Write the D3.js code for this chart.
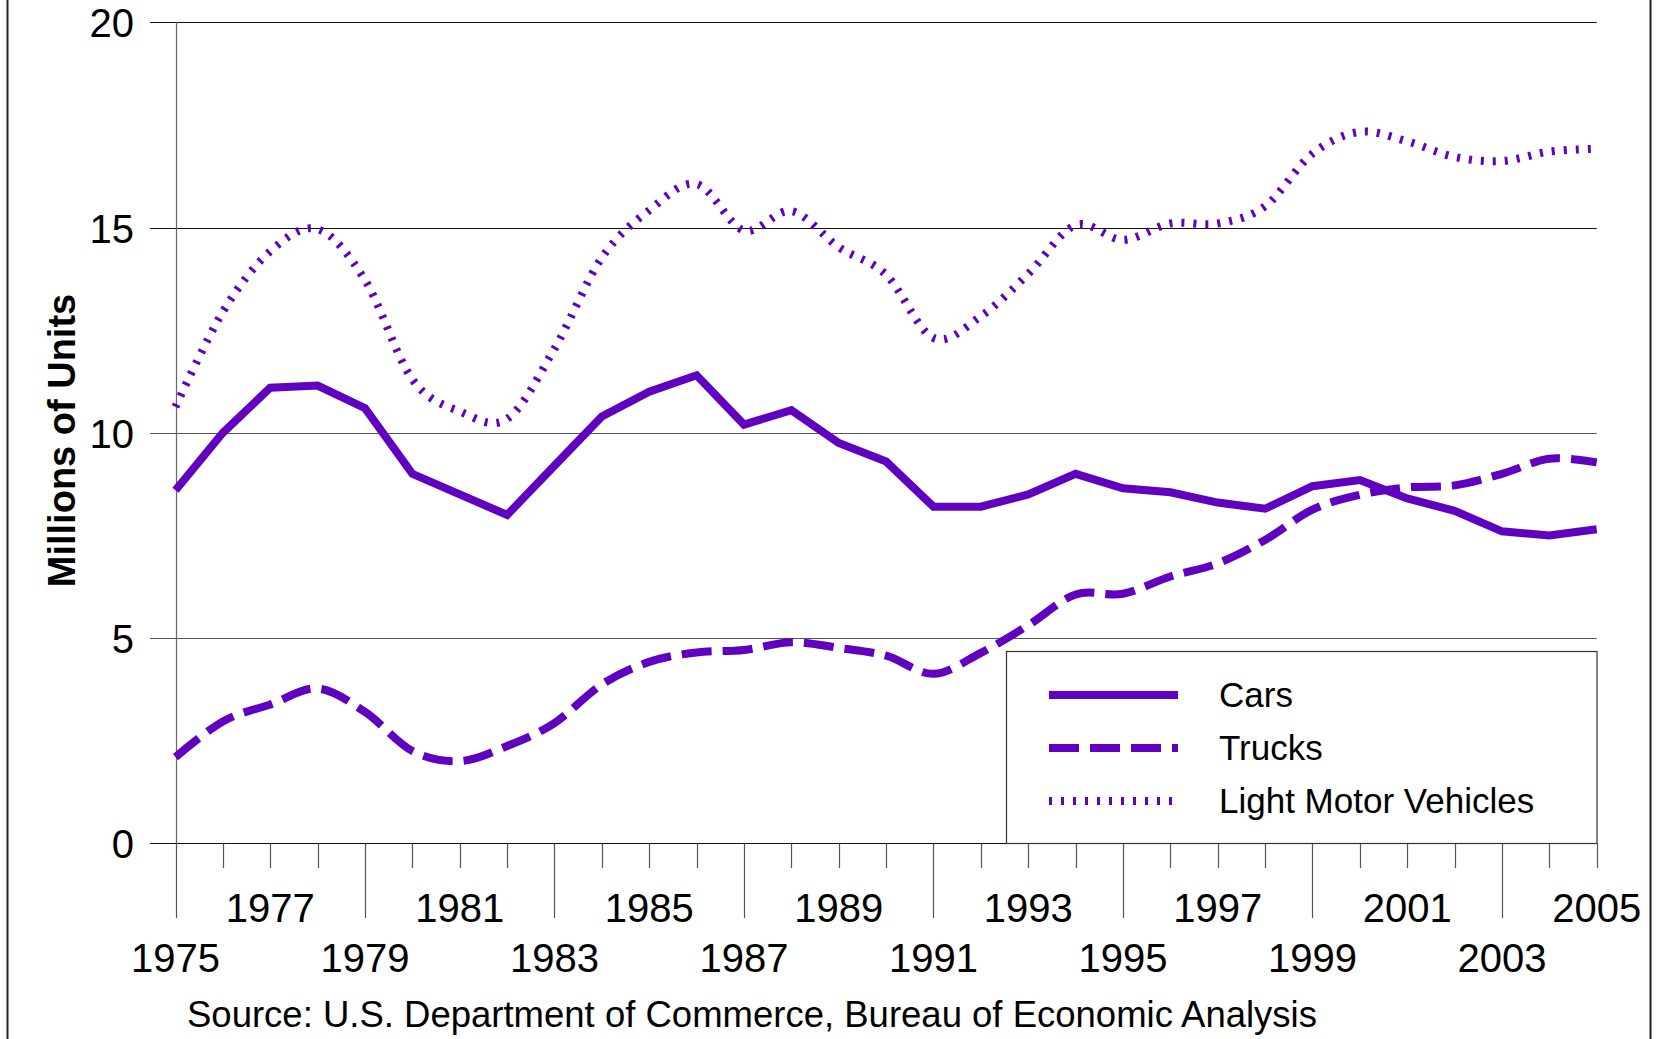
<!DOCTYPE html>
<html>
<head>
<meta charset="utf-8">
<script src="https://cdn.jsdelivr.net/npm/d3@7"></script>
<style>
	html, body { margin: 0; padding: 0; background: #fff; }
	svg { display: block; font-family: "Liberation Sans", Arial, sans-serif; }
</style>
</head>
<body>
<div id="wrapper"></div>
<script>

var years = d3.range(1975, 2006);

var cars = [8.6, 10.0, 11.1, 11.15, 10.6, 9.0, 8.5, 8.0, 9.2, 10.4, 11.0, 11.4, 10.2, 10.55, 9.75, 9.3,
	8.2, 8.2, 8.5, 9.0, 8.65, 8.55, 8.3, 8.15, 8.7, 8.85, 8.4, 8.1, 7.6, 7.5, 7.65];

var trucks = [2.1, 2.97, 3.38, 3.77, 3.2, 2.25, 2.0, 2.37, 2.93, 3.87, 4.42, 4.65, 4.71, 4.9, 4.76, 4.57,
	4.13, 4.64, 5.31, 6.06, 6.08, 6.5, 6.82, 7.39, 8.13, 8.49, 8.67, 8.72, 9.0, 9.37, 9.28];

var lightVehicles = [10.63, 12.95, 14.42, 14.96, 13.72, 11.3, 10.52, 10.34, 12.05, 14.27, 15.42, 16.06, 14.93, 15.4, 14.52, 13.85,
	12.31, 12.84, 13.87, 15.06, 14.7, 15.1, 15.1, 15.52, 16.8, 17.33, 17.1, 16.72, 16.62, 16.85, 16.92];

var yTicks = [0, 5, 10, 15, 20];
var topRowYears = [1977, 1981, 1985, 1989, 1993, 1997, 2001, 2005];
var bottomRowYears = [1975, 1979, 1983, 1987, 1991, 1995, 1999, 2003];

var seriesNames = ["Cars", "Trucks", "Light Motor Vehicles"];
var sourceNote = "Source: U.S. Department of Commerce, Bureau of Economic Analysis";

var width = 1658, height = 1039;
var purple = "#6000c0";

var svg = d3.select("#wrapper").append("svg")
	.attr("width", width)
	.attr("height", height);

// outer frame, top and bottom sit off the picture
svg.append("rect")
	.attr("x", 7.5).attr("y", -10)
	.attr("width", 1643).attr("height", height + 20)
	.attr("fill", "#fff")
	.attr("stroke", "#222")
	.attr("stroke-width", 2);

var x = d3.scaleLinear().domain([1975, 2005]).range([175.5, 1596.7]);
var y = d3.scaleLinear().domain([0, 20]).range([843.3, 22.3]);

// horizontal gridlines (they run out left as the y ticks)
svg.append("g").selectAll("line")
	.data(yTicks)
	.enter().append("line")
	.attr("x1", 150).attr("x2", x(2005))
	.attr("y1", function(d) { return Math.round(y(d)) + 0.5; })
	.attr("y2", function(d) { return Math.round(y(d)) + 0.5; })
	.attr("stroke", function(d) { return d === 0 || d === 20 || d === 15 ? "#111" : "#555"; })
	.attr("stroke-width", 1.2);

// y tick labels
svg.append("g").selectAll("text")
	.data(yTicks)
	.enter().append("text")
	.attr("x", 134)
	.attr("y", function(d) { return y(d) + 15; })
	.attr("text-anchor", "end")
	.attr("font-size", 40)
	.attr("fill", "#000")
	.text(function(d) { return d; });

// vertical axis
svg.append("line")
	.attr("x1", Math.round(x(1975)) + 0.5).attr("x2", Math.round(x(1975)) + 0.5)
	.attr("y1", y(20)).attr("y2", y(0))
	.attr("stroke", "#666").attr("stroke-width", 1.2);

// x ticks: short every year, long under the bottom row labels
svg.append("g").selectAll("line")
	.data(years)
	.enter().append("line")
	.attr("x1", function(d) { return Math.round(x(d)) + 0.5; })
	.attr("x2", function(d) { return Math.round(x(d)) + 0.5; })
	.attr("y1", y(0))
	.attr("y2", function(d) { return bottomRowYears.indexOf(d) >= 0 ? 918 : 868; })
	.attr("stroke", "#555")
	.attr("stroke-width", 1.2);

svg.append("g").selectAll("text")
	.data(topRowYears)
	.enter().append("text")
	.attr("x", function(d) { return x(d); })
	.attr("y", 922)
	.attr("text-anchor", "middle")
	.attr("font-size", 40)
	.text(function(d) { return d; });

svg.append("g").selectAll("text")
	.data(bottomRowYears)
	.enter().append("text")
	.attr("x", function(d) { return x(d); })
	.attr("y", 972)
	.attr("text-anchor", "middle")
	.attr("font-size", 40)
	.text(function(d) { return d; });

// axis title
svg.append("text")
	.attr("transform", "translate(75,440.5) rotate(-90)")
	.attr("text-anchor", "middle")
	.attr("font-size", 38)
	.attr("font-weight", "bold")
	.text("Millions of Units");

svg.append("text")
	.attr("x", 187)
	.attr("y", 1027)
	.attr("font-size", 36.5)
	.text(sourceNote);

// series
var straight = d3.line()
	.x(function(d, i) { return x(years[i]); })
	.y(function(d) { return y(d); });

var smooth = d3.line()
	.x(function(d, i) { return x(years[i]); })
	.y(function(d) { return y(d); })
	.curve(d3.curveCardinal.tension(0));

var series = [
	{ values: cars, line: straight, dash: null },
	{ values: trucks, line: smooth, dash: "30,11" },
	{ values: lightVehicles, line: smooth, dash: "3,9" }
];

svg.append("g").selectAll("path")
	.data(series)
	.enter().append("path")
	.attr("d", function(d) { return d.line(d.values); })
	.attr("fill", "none")
	.attr("stroke", purple)
	.attr("stroke-width", 8)
	.attr("stroke-linejoin", "miter")
	.attr("stroke-dasharray", function(d) { return d.dash; });

// legend
var legend = svg.append("g");

legend.append("rect")
	.attr("x", 1006.5).attr("y", 651.5)
	.attr("width", 590.5).attr("height", 192)
	.attr("fill", "#fff")
	.attr("stroke", "#333")
	.attr("stroke-width", 1.2);

var legendRows = legend.selectAll("g.row")
	.data(series)
	.enter().append("g")
	.attr("class", "row")
	.attr("transform", function(d, i) { return "translate(0," + (695 + i * 53) + ")"; });

legendRows.append("line")
	.attr("x1", 1049)
	.attr("x2", function(d, i) { return i === 2 ? 1172 : 1178; })
	.attr("y1", 0).attr("y2", 0)
	.attr("stroke", purple)
	.attr("stroke-width", 8)
	.attr("stroke-dasharray", function(d) { return d.dash; });

legendRows.append("text")
	.attr("x", 1219)
	.attr("y", 11.5)
	.attr("font-size", 35)
	.text(function(d, i) { return seriesNames[i]; });

</script>
</body>
</html>
